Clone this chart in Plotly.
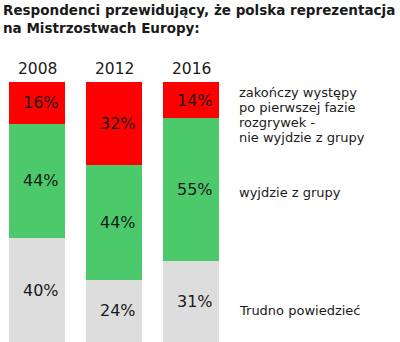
import plotly.graph_objects as go

years = ["2008", "2012", "2016"]
nie_wyjdzie = [16, 32, 14]
wyjdzie = [44, 44, 55]
trudno = [40, 24, 31]

series_lines = [["zakończy występy", "po pierwszej fazie", "rozgrywek -", "nie wyjdzie z grupy"],
                ["wyjdzie z grupy"], ["Trudno powiedzieć"]]

W, H = 400, 342
FONT = "DejaVu Sans"
TXT = "#1a1a1a"

fig = go.Figure()
colors = {"trudno": "#dddddd", "wyjdzie": "#4cc96a", "nie": "#ff0000"}
stack = [(trudno, colors["trudno"]), (wyjdzie, colors["wyjdzie"]), (nie_wyjdzie, colors["nie"])]
for vals, col in stack:
    fig.add_trace(go.Bar(x=years, y=vals, marker=dict(color=col, line=dict(width=0)),
                         width=0.74, showlegend=False, hoverinfo="skip"))

annotations = []
# segment labels
for i, y in enumerate(years):
    base = 0
    for vals, _ in stack:
        v = vals[i]
        annotations.append(dict(x=i, y=base + v / 2, xref="x", yref="y", text=f"{v}%",
                                showarrow=False, xshift=4,
                                font=dict(family=FONT, size=16, color=TXT)))
        base += v
    annotations.append(dict(x=i, y=100, xref="x", yref="y", text=y, showarrow=False,
                            yshift=13, font=dict(family=FONT, size=15.5, color=TXT)))

# side labels (one annotation per line for tight spacing)
side_start = [93, 192, 310]
for lines, py0 in zip(series_lines, side_start):
    for k, line in enumerate(lines):
        py = py0 + k * 14.7
        annotations.append(dict(x=237 / W, y=1 - py / H, xref="paper", yref="paper", text=line,
                                xanchor="left", yanchor="middle", align="left", showarrow=False,
                                font=dict(family=FONT, size=13, color=TXT)))

annotations.append(dict(x=1 / W, y=1 - 0 / H, xref="paper", yref="paper",
                        text="<b>Respondenci przewidujący, że polska reprezentacja<br>na Mistrzostwach Europy:</b>",
                        xanchor="left", yanchor="top", align="left", showarrow=False,
                        font=dict(family=FONT, size=13.5, color=TXT)))

fig.update_layout(
    width=W, height=H, margin=dict(l=0, r=0, t=0, b=0),
    barmode="stack", bargap=0,
    paper_bgcolor="white", plot_bgcolor="white",
    xaxis=dict(type="category", range=[-37 / 77, (W - 37) / 77], visible=False, fixedrange=True),
    yaxis=dict(range=[0, H / 2.6], visible=False, fixedrange=True),
    annotations=annotations,
)
fig.write_html("out.html")
